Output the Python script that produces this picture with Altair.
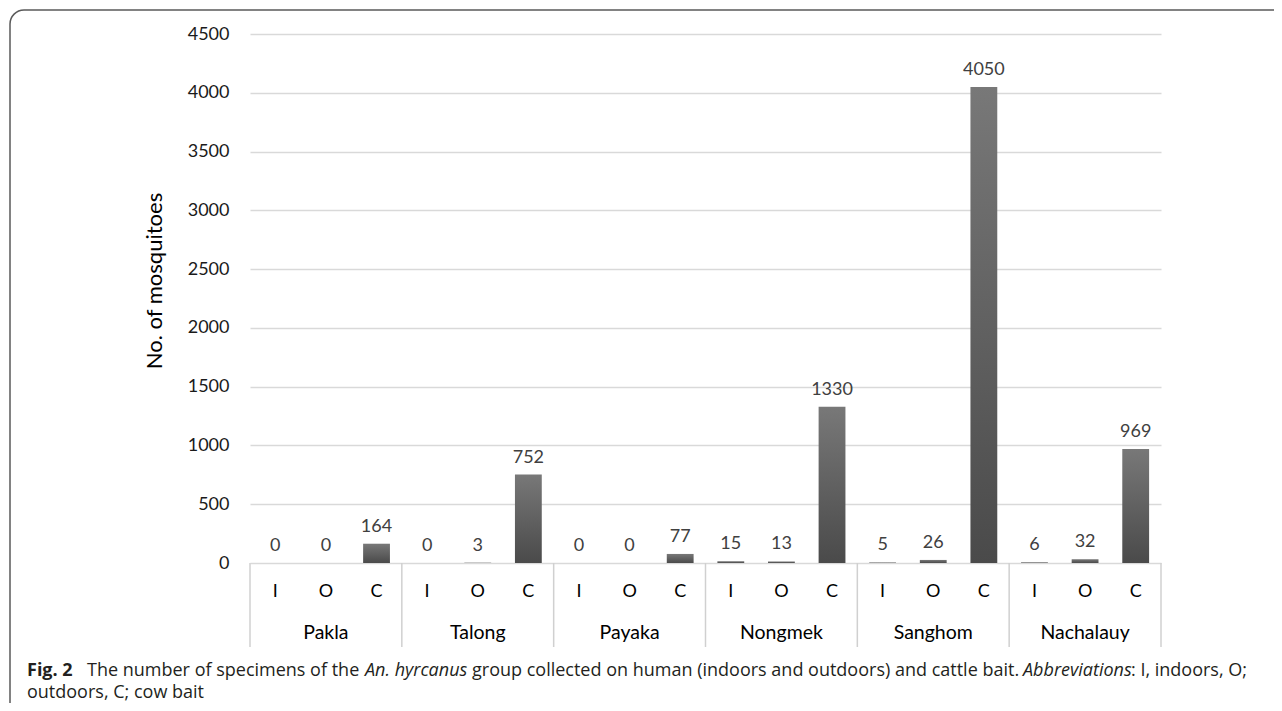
import altair as alt
import pandas as pd

villages = ["Pakla", "Talong", "Payaka", "Nongmek", "Sanghom", "Nachalauy"]
sites = ["I", "O", "C"]
indoor = [0, 0, 0, 15, 5, 6]
outdoor = [0, 3, 0, 13, 26, 32]
cow = [164, 752, 77, 1330, 4050, 969]
y_ticks = [0, 500, 1000, 1500, 2000, 2500, 3000, 3500, 4000, 4500]
group_bounds = [0, 3, 6, 9, 12, 15, 18]

rows = []
for i, v in enumerate(villages):
    for s, vals in zip(sites, [indoor, outdoor, cow]):
        rows.append({"village": v, "site": s, "key": f"{v}|{s}", "count": vals[i]})
df = pd.DataFrame(rows)
order = list(df["key"])

W, H = 911, 529
FONT = "Lato"
CAP_FONT = "Open Sans"
CAP_SIZE = 18
CAP_COLOR = "#231f20"

xscale = alt.Scale(domain=order, paddingInner=0.47, paddingOuter=0.235)
xenc = alt.X("key:N", sort=order, scale=xscale, axis=None)
yenc = alt.Y(
    "count:Q",
    scale=alt.Scale(domain=[0, 4500], nice=False),
    axis=alt.Axis(
        values=y_ticks, format="d", grid=True, gridColor="#d9d9d9", gridWidth=1.5,
        domain=False, ticks=False, labelFontSize=18, labelFont=FONT,
        labelColor="#1a1a1a", labelPadding=21, title=None,
    ),
)

grad = alt.Gradient(
    gradient="linear",
    stops=[alt.GradientStop(color="#787878", offset=0),
           alt.GradientStop(color="#4a4a4a", offset=1)],
    x1=0, x2=0, y1=0, y2=1,
)

base = alt.Chart(df)
bars = base.mark_bar(color=grad).encode(x=xenc, y=yenc)
values = base.mark_text(baseline="alphabetic", dy=-12, fontSize=18, font=FONT,
                        color="#404040").encode(x=xenc, y="count:Q", text="count:Q")
site_lbl = base.mark_text(baseline="middle", fontSize=18, font=FONT,
                          color="#000000").encode(x=xenc, y=alt.value(558), text="site:N")
vill_lbl = base.transform_filter(alt.datum.site == "O").mark_text(
    baseline="middle", fontSize=19.5, font=FONT, color="#000000"
).encode(x=xenc, y=alt.value(599), text="village:N")

seps = alt.Chart(pd.DataFrame({"b": group_bounds})).mark_rule(
    color="#d0d0d0", strokeWidth=1.5
).encode(
    x=alt.X("b:Q", scale=alt.Scale(domain=[0, 18], nice=False, zero=False), axis=None),
    y=alt.value(529), y2=alt.value(613),
)

one = pd.DataFrame({"t": [""]})

border = alt.Chart(one).mark_rect(
    fill="transparent", stroke="#5a5a5a", strokeWidth=1.5, cornerRadius=14
).encode(x=alt.value(-240), x2=alt.value(1200), y=alt.value(-24), y2=alt.value(740))

ytitle = alt.Chart(one).mark_text(
    angle=270, fontSize=22, font=FONT, color="#000000", baseline="middle", align="center",
    text="No. of mosquitoes",
).encode(x=alt.value(-95), y=alt.value(247))


def cap(txt, x, y, weight="normal", style="normal", align="left"):
    return alt.Chart(one).mark_text(
        text=txt, font=CAP_FONT, fontSize=CAP_SIZE, color=CAP_COLOR,
        fontWeight=weight, fontStyle=style, align=align, baseline="alphabetic",
    ).encode(x=alt.value(x), y=alt.value(y))


L1, L2 = 642, 664
caption = [
    cap("Fig. 2", -223, L1, weight="bold"),
    cap("The number of specimens of the", -163, L1),
    cap("An. hyrcanus", 115, L1, style="italic"),
    cap("group collected on human (indoors and outdoors) and cattle bait.", 222, L1),
    cap("Abbreviations", 773, L1, style="italic"),
    cap(": I, indoors, O;", 881, L1),
    cap("outdoors, C; cow bait", -223, L2),
]

chart = alt.layer(
    border, bars, values, site_lbl, vill_lbl, seps, ytitle, *caption
).resolve_scale(x="independent").properties(
    width=W, height=H,
    autosize=alt.AutoSizeParams(type="none"),
    padding={"left": 242, "top": 26, "right": 113, "bottom": 140},
    background="white",
).configure_view(stroke=None)

chart.save("out.html", embed_options={"renderer": "svg", "actions": False})
